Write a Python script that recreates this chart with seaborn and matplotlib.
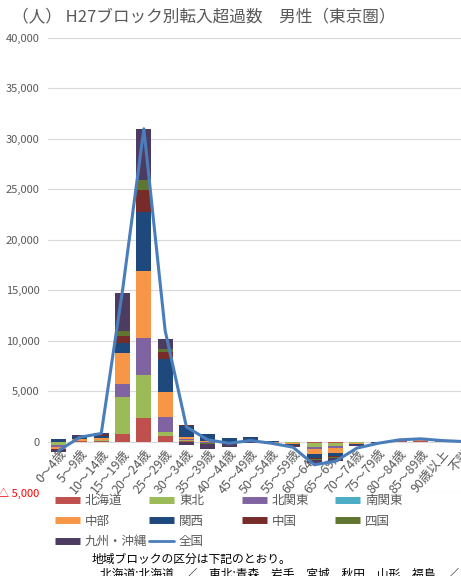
import numpy as np
import pandas as pd
import matplotlib
matplotlib.use("Agg")
import matplotlib.pyplot as plt
import seaborn as sns
from matplotlib.lines import Line2D

categories = ["0～4歳", "5～9歳", "10～14歳", "15～19歳", "20～24歳", "25～29歳", "30～34歳",
              "35～39歳", "40～44歳", "45～49歳", "50～54歳", "55～59歳", "60～64歳", "65～69歳",
              "70～74歳", "75～79歳", "80～84歳", "85～89歳", "90歳以上", "不詳"]

hokkaido = [-60, 30, 40, 700, 2300, 600, 60, -40, -30, -10, -20, -40, -150, -130, -40, -10, 10, 20, 10, 0]
tohoku = [-250, 60, 80, 3700, 4250, 320, 80, -40, -30, 10, -20, -60, -350, -300, -60, -20, 20, 30, 10, 0]
kitakanto = [-200, -50, 60, 1320, 3750, 1480, 150, -60, -50, 20, -30, -80, -250, -250, -60, -20, 20, 30, 10, 0]
minamikanto = [0] * 20
chubu = [-250, 150, 150, 3040, 6600, 2490, 150, 60, -60, 30, -40, -100, -500, -450, -100, -30, 30, 50, 20, 0]
kansai = [250, 200, 250, 1000, 5850, 3310, 1150, 700, 350, 400, 100, -80, -350, -350, -80, -30, 30, 60, 20, 0]
chugoku = [-40, -30, 40, 670, 2150, 660, 40, -40, -50, -20, -30, -40, -120, -100, -20, -10, 10, 20, 10, 0]
shikoku = [-20, 20, 20, 500, 1050, 340, 20, -30, -30, -10, -20, -30, -80, -70, -10, -5, 5, 10, 5, 0]
kyushu = [-250, 200, 200, 3840, 5060, 990, -300, -500, -300, -150, -100, -150, -300, -250, -40, -20, 20, 40, 20, 0]
zenkoku = [-900, 430, 800, 15000, 31000, 11000, 1450, 170, -170, 100, -170, -560, -2300, -1950, -650, -170, 170, 270, 100, 0]

block_names = ["北海道", "東北", "北関東", "南関東", "中部", "関西", "中国", "四国", "九州・沖縄"]
block_values = [hokkaido, tohoku, kitakanto, minamikanto, chubu, kansai, chugoku, shikoku, kyushu]
block_colors = ["#C0504D", "#9BBB59", "#8064A2", "#4BACC6", "#F79646", "#1F497D", "#772C2A", "#5F7530", "#4D3B62"]
line_color = "#4A7EBB"

yticks = [-5000, 0, 5000, 10000, 15000, 20000, 25000, 30000, 35000, 40000]

sns.set_theme(style="white")
plt.rcParams["font.family"] = ["Noto Sans CJK JP", "DejaVu Sans"]

W, H = 461, 576
fig = plt.figure(figsize=(W / 100, H / 100), dpi=100)
ax = fig.add_axes([48 / W, 1 - 492 / H, (474 - 48) / W, (492 - 38) / H])

x = np.arange(len(categories))
pos_bottom = np.zeros(len(categories))
neg_bottom = np.zeros(len(categories))
for name, vals, col in zip(block_names, block_values, block_colors):
    v = np.array(vals, dtype=float)
    pos = np.where(v > 0, v, 0)
    neg = np.where(v < 0, v, 0)
    ax.bar(x, pos, bottom=pos_bottom, width=0.7, color=col, linewidth=0, zorder=2)
    ax.bar(x, neg, bottom=neg_bottom, width=0.7, color=col, linewidth=0, zorder=2)
    pos_bottom += pos
    neg_bottom += neg

df_line = pd.DataFrame({"x": x, "全国": zenkoku})
sns.lineplot(data=df_line, x="x", y="全国", ax=ax, color=line_color, linewidth=2.2, zorder=3)

# category labels sit on the zero line, as in the reference
ax.spines["bottom"].set_position(("data", 0))
ax.spines["bottom"].set_color("none")
for s in ["top", "left", "right"]:
    ax.spines[s].set_visible(False)

ax.set_xlim(-0.5, len(categories) - 0.5)
ax.set_ylim(-5000, 40000)
ax.set_yticks(yticks)
ax.set_yticklabels(["△ 5,000" if t < 0 else f"{t:,}" for t in yticks])
for lbl, t in zip(ax.get_yticklabels(), yticks):
    lbl.set_color("#FF0000" if t < 0 else "#595959")
ax.set_xticks(x)
ax.set_xticklabels(categories, rotation=50, ha="right", rotation_mode="anchor", color="#595959")
ax.tick_params(axis="y", labelsize=8, length=0, pad=6)
ax.tick_params(axis="x", labelsize=9, length=0, pad=4)
ax.grid(axis="y", color="#D9D9D9", linewidth=0.8, zorder=0)
ax.set_axisbelow(True)
ax.set_xlabel("")
ax.set_ylabel("")

# legend, laid out in fixed columns like the reference
handles = [Line2D([0], [0], color=c, lw=5, solid_capstyle="butt") for c in block_colors]
handles.append(Line2D([0], [0], color=line_color, lw=2))
labels = block_names + ["全国"]
cols = [[0, 4, 8], [1, 5, 9], [2, 6], [3, 7]]
col_x = [55, 149, 242, 335]
for cx, idx in zip(col_x, cols):
    fig.legend([handles[i] for i in idx], [labels[i] for i in idx],
               loc="upper left", bbox_to_anchor=(cx / W, 1 - 494 / H),
               frameon=False, fontsize=9, borderpad=0, borderaxespad=0,
               handlelength=2.0, handletextpad=0.4, labelspacing=0.6,
               labelcolor="#595959")

fig.text(12 / W, 1 - 17 / H, "（人） H27ブロック別転入超過数　男性（東京圏）",
         fontsize=12, color="#595959", va="center", ha="left")
fig.text(92 / W, 1 - 559 / H, "地域ブロックの区分は下記のとおり。",
         fontsize=8.5, color="#000000", va="center", ha="left")
fig.text(100 / W, 1 - 574 / H,
         "北海道:北海道　／　東北:青森　岩手　宮城　秋田　山形　福島　／　北関東:茨城　栃木　群馬",
         fontsize=8.5, color="#000000", va="center", ha="left")

fig.savefig("out.png", dpi=100)
